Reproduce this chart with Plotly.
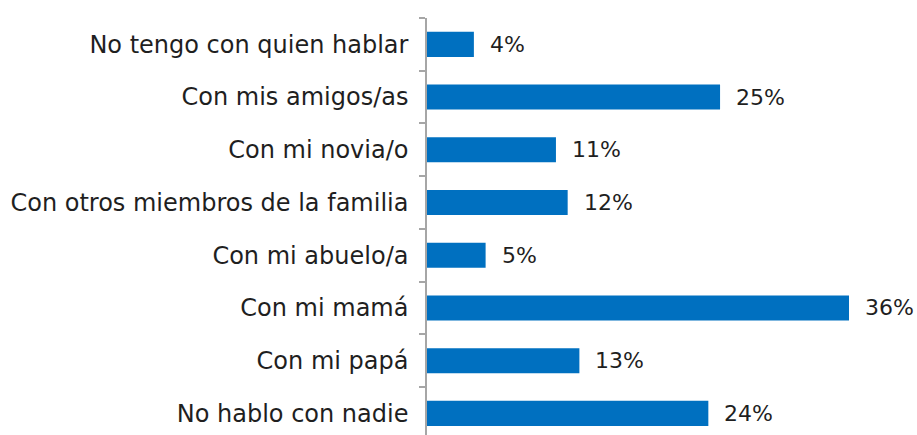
import plotly.graph_objects as go

categories = [
    "No tengo con quien hablar",
    "Con mis amigos/as",
    "Con mi novia/o",
    "Con otros miembros de la familia",
    "Con mi abuelo/a",
    "Con mi mamá",
    "Con mi papá",
    "No hablo con nadie",
]
values = [4, 25, 11, 12, 5, 36, 13, 24]
value_labels = [f"{v}%" for v in values]

FONT = "DejaVu Sans"
TEXT_COLOR = "#1f1f1f"

fig = go.Figure(
    go.Bar(
        x=values,
        y=categories,
        orientation="h",
        marker=dict(color="#0070C0", line=dict(width=0)),
        hoverinfo="skip",
    )
)

for c, v, t in zip(categories, values, value_labels):
    fig.add_annotation(
        x=v, y=c, text=t, showarrow=False, xanchor="left", xshift=14,
        font=dict(family=FONT, size=22, color=TEXT_COLOR),
    )

fig.update_layout(
    width=917, height=435,
    margin=dict(l=427, r=0, t=18, b=0),
    paper_bgcolor="white", plot_bgcolor="white",
    bargap=0.525,
    showlegend=False,
    font=dict(family=FONT, size=22, color=TEXT_COLOR),
)
fig.update_xaxes(range=[0, 41.8], visible=False, showgrid=False, zeroline=False)
fig.update_yaxes(
    type="category",
    categoryorder="array", categoryarray=categories,
    range=[7.41, -0.5],
    showline=True, linecolor="#A6A6A6", linewidth=1.5,
    ticks="outside", tickson="boundaries", ticklen=6, tickcolor="#A6A6A6", tickwidth=1.5,
    ticklabelstandoff=12,
    showgrid=False, zeroline=False,
    tickfont=dict(family=FONT, size=24, color=TEXT_COLOR),
)

fig.write_html(
    "out.html",
    config={"displayModeBar": False},
    post_script="document.body.style.margin='0';document.body.style.padding='0';",
)
